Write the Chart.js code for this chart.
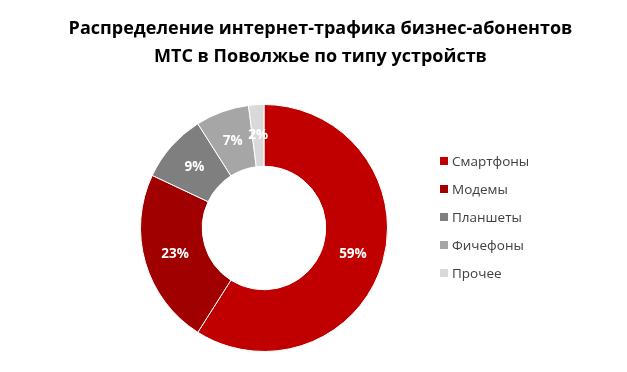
<!DOCTYPE html>
<html>
<head>
<meta charset="utf-8">
<script src="https://cdn.jsdelivr.net/npm/chart.js@4"></script>
<style>
  body { margin: 0; background: #fff; }
  #wrap { position: relative; width: 627px; height: 372px; }
  #title {
    position: absolute; left: 14px; top: 13px; width: 613px;
    text-align: center; font-family: 'Open Sans', 'DejaVu Sans', sans-serif;
    font-weight: bold; font-size: 18px; line-height: 28px; color: #000;
  }
</style>
</head>
<body>
<div id="wrap">
  <canvas id="trafficChart" width="627" height="372"></canvas>
  <div id="title"></div>
</div>
<script>
// Data
const titleLines = ['Распределение интернет-трафика бизнес-абонентов', 'МТС в Поволжье по типу устройств'];
const devices = ['Смартфоны', 'Модемы', 'Планшеты', 'Фичефоны', 'Прочее'];
const shares = [59, 23, 9, 7, 2];
const sliceColors = ['#c00000', '#a00000', '#7f7f7f', '#a6a6a6', '#d9d9d9'];

const FONT = "'Open Sans', 'DejaVu Sans', sans-serif";

// title as plain text above the canvas
const titleEl = document.getElementById('title');
titleLines.forEach(line => {
    const div = document.createElement('div');
    div.textContent = line;
    titleEl.appendChild(div);
});

// percent labels in the middle of each ring segment
const sliceLabels = {
    id: 'sliceLabels',
    afterDatasetsDraw(chart) {
        const ctx = chart.ctx;
        const meta = chart.getDatasetMeta(0);
        ctx.save();
        ctx.fillStyle = '#ffffff';
        ctx.font = 'bold 13.5px ' + FONT;
        ctx.textAlign = 'center';
        ctx.textBaseline = 'middle';
        meta.data.forEach((arc, i) => {
            const p = arc.tooltipPosition();
            ctx.fillText(shares[i] + '%', p.x, p.y);
        });
        ctx.restore();
    }
};

// legend to the right of the ring
const sideLegend = {
    id: 'sideLegend',
    afterDraw(chart) {
        const ctx = chart.ctx;
        const x = 440, y0 = 161, step = 28;
        ctx.save();
        ctx.font = '13.5px ' + FONT;
        ctx.textBaseline = 'middle';
        devices.forEach((name, i) => {
            const y = y0 + i * step;
            ctx.fillStyle = sliceColors[i];
            ctx.fillRect(x, y - 4, 8, 8);
            ctx.fillStyle = '#404040';
            ctx.fillText(name, x + 12, y + 1);
        });
        ctx.restore();
    }
};

new Chart(document.getElementById('trafficChart').getContext('2d'), {
    type: 'doughnut',
    data: {
        labels: devices,
        datasets: [{
            data: shares,
            backgroundColor: sliceColors,
            borderColor: '#ffffff',
            borderWidth: 1
        }]
    },
    options: {
        responsive: false,
        animation: false,
        cutout: '50%',
        layout: {
            padding: { top: 104, left: 98, right: 197, bottom: 20 }
        },
        plugins: {
            legend: { display: false },
            tooltip: { enabled: false },
            title: { display: false }
        }
    },
    plugins: [sliceLabels, sideLegend]
});
</script>
</body>
</html>
